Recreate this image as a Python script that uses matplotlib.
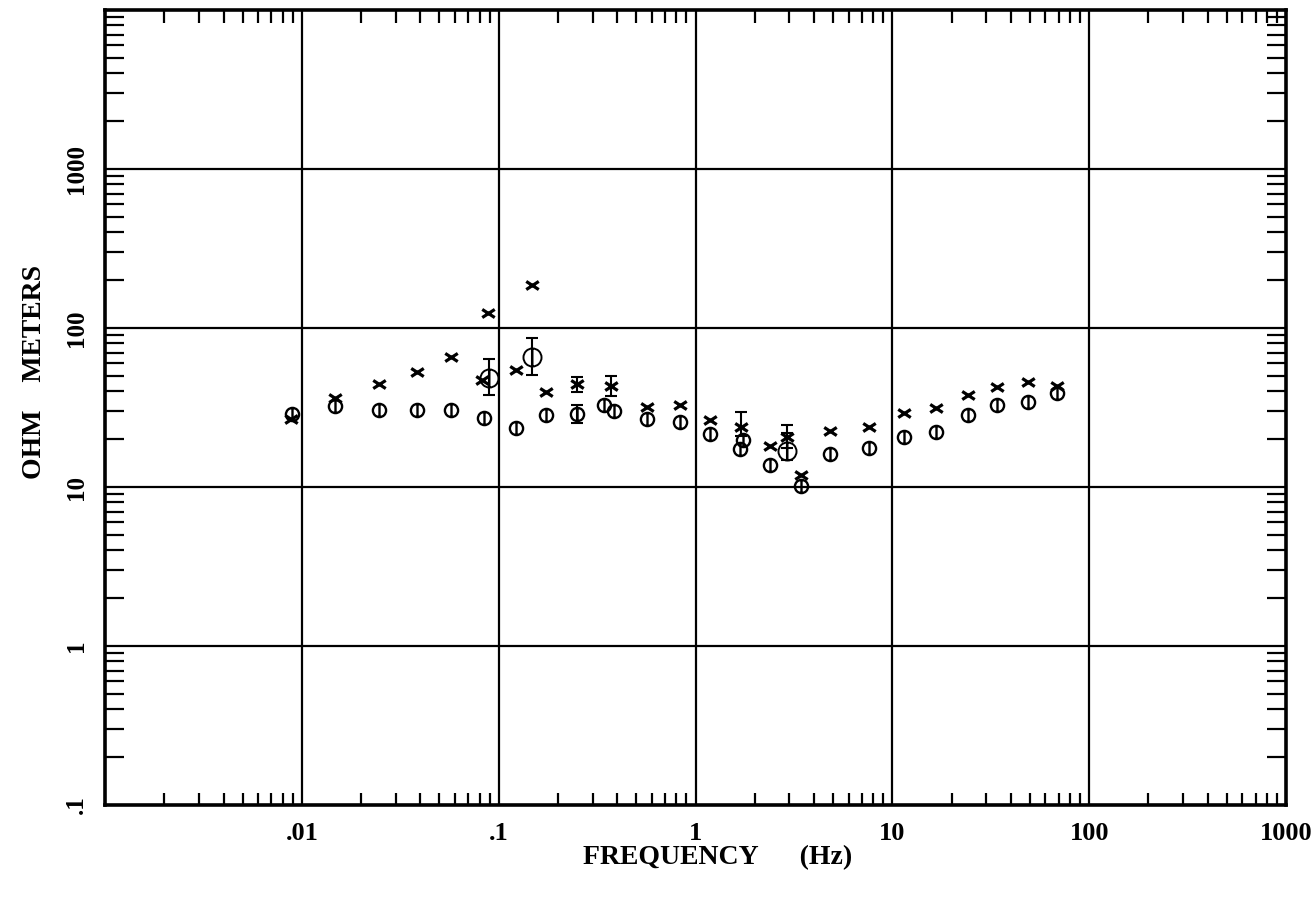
import matplotlib
matplotlib.use("Agg")
import matplotlib.pyplot as plt
from matplotlib.path import Path
from matplotlib.ticker import LogLocator, FixedLocator, FixedFormatter, NullFormatter
import numpy as np

# ---- data ----
circ_freq = [0.0089, 0.0147, 0.0246, 0.0383, 0.057, 0.084, 0.122, 0.173, 0.249,
             0.341, 0.384, 0.564, 0.83, 1.19, 1.69, 1.75, 2.40, 3.45, 4.84, 7.64,
             11.4, 16.7, 24.3, 34.1, 49.0, 68.8]
circ_rho = [28.8, 32.3, 30.5, 30.5, 30.5, 27.2, 23.5, 28.4, 28.8,
            32.8, 30.1, 26.8, 25.6, 21.5, 17.3, 19.8, 13.7, 10.1, 16.1, 17.6,
            20.6, 22.2, 28.4, 32.8, 34.3, 39.0]

big_freq = [0.089, 0.147, 2.93]
big_rho = [48.5, 65.7, 16.8]
big_lo = [37.9, 50.6, 14.8]
big_hi = [63.8, 86.5, 22.0]

x_freq = [0.0088, 0.0147, 0.0246, 0.0383, 0.057, 0.088, 0.082, 0.122, 0.147,
          0.173, 0.249, 0.37, 0.564, 0.83, 1.19, 1.70, 2.40, 2.93, 3.45, 4.84,
          7.64, 11.4, 16.7, 24.3, 34.1, 49.0, 68.8]
x_rho = [26.8, 36.3, 44.4, 52.9, 65.7, 124.0, 47.1, 54.4, 186.0,
         39.6, 44.4, 43.2, 31.9, 32.8, 26.4, 24.0, 18.1, 20.6, 11.9, 22.5,
         23.8, 29.2, 31.4, 37.9, 42.6, 45.8, 43.2]

xerr_freq = [0.249, 0.37, 1.70, 2.93]
xerr_lo = [39.6, 37.5, 21.0, 17.5]
xerr_hi = [49.2, 50.0, 29.6, 24.5]

circ_err_freq = [0.249]
circ_err_lo = [25.3]
circ_err_hi = [32.8]

xtick_vals = [0.01, 0.1, 1, 10, 100, 1000]
xtick_labels = [".01", ".1", "1", "10", "100", "1000"]
ytick_vals = [0.1, 1, 10, 100, 1000]
ytick_labels = [".1", "1", "10", "100", "1000"]

# ---- markers ----
circ_marker = Path.make_compound_path(
    Path.unit_circle(),
    Path([(0, -1), (0, 1)], [Path.MOVETO, Path.LINETO]))
x_marker = Path([(-1, -0.65), (1, 0.65), (-1, 0.65), (1, -0.65)],
                [Path.MOVETO, Path.LINETO, Path.MOVETO, Path.LINETO])

FONT = "Liberation Serif"

fig = plt.figure(figsize=(13.11, 9.02), dpi=100)
ax = fig.add_axes([105/1311, 1 - 805/902, (1286-105)/1311, (805-10)/902])
ax.set_xscale("log")
ax.set_yscale("log")
ax.set_xlim(0.001, 1000)
ax.set_ylim(0.1, 10000)

for v in [0.01, 0.1, 1, 10, 100]:
    ax.axvline(v, color="black", lw=1.6, zorder=1)
for v in [1, 10, 100, 1000]:
    ax.axhline(v, color="black", lw=1.6, zorder=1)

# error bars
ax.vlines(big_freq, big_lo, big_hi, color="black", lw=1.5, zorder=3)
ax.vlines(xerr_freq, xerr_lo, xerr_hi, color="black", lw=1.5, zorder=3)
ax.vlines(circ_err_freq, circ_err_lo, circ_err_hi, color="black", lw=1.5, zorder=3)
allc_f = big_freq + xerr_freq + circ_err_freq
allc_lo = big_lo + xerr_lo + circ_err_lo
allc_hi = big_hi + xerr_hi + circ_err_hi
ax.plot(allc_f, allc_lo, ls="none", marker="_", ms=8, mew=1.5, color="black", zorder=3)
ax.plot(allc_f, allc_hi, ls="none", marker="_", ms=8, mew=1.5, color="black", zorder=3)

ax.plot(circ_freq, circ_rho, ls="none", marker=circ_marker, ms=9.5,
        mfc="none", mec="black", mew=1.7, zorder=4)
ax.plot(big_freq, big_rho, ls="none", marker=circ_marker, ms=13,
        mfc="none", mec="black", mew=1.4, zorder=4)
ax.plot(x_freq, x_rho, ls="none", marker=x_marker, ms=9,
        mfc="none", mec="black", mew=2.3, zorder=4)

for s in ax.spines.values():
    s.set_linewidth(2.6)
    s.set_color("black")

ax.xaxis.set_major_locator(FixedLocator(xtick_vals))
ax.xaxis.set_major_formatter(FixedFormatter(xtick_labels))
ax.yaxis.set_major_locator(FixedLocator(ytick_vals))
ax.yaxis.set_major_formatter(FixedFormatter(ytick_labels))
ax.xaxis.set_minor_locator(LogLocator(base=10, subs=np.arange(2, 10), numticks=20))
ax.yaxis.set_minor_locator(LogLocator(base=10, subs=np.arange(2, 10), numticks=20))
ax.xaxis.set_minor_formatter(NullFormatter())
ax.yaxis.set_minor_formatter(NullFormatter())

ax.tick_params(which="major", length=0)
ax.tick_params(axis="x", which="major", pad=12)
ax.tick_params(axis="y", which="major", pad=12)
ax.tick_params(axis="x", which="minor", direction="in", top=True, bottom=True,
               length=9, width=1.6)
ax.tick_params(axis="y", which="minor", direction="in", left=True, right=True,
               length=14, width=1.6)

for lab in ax.get_xticklabels():
    lab.set_fontfamily(FONT)
    lab.set_fontweight("bold")
    lab.set_fontsize(19)
for lab in ax.get_yticklabels():
    lab.set_fontfamily(FONT)
    lab.set_fontweight("bold")
    lab.set_fontsize(18)
    lab.set_rotation(90)
    lab.set_va("center")

fig.text(718/1311, 1 - 858/902, "FREQUENCY      (Hz)", ha="center", va="center",
         fontfamily=FONT, fontweight="bold", fontsize=20)
fig.text(35/1311, 1 - 372/902, "OHM    METERS", ha="center", va="center",
         rotation=90, fontfamily=FONT, fontweight="bold", fontsize=20)

fig.savefig("out.png", dpi=100)
